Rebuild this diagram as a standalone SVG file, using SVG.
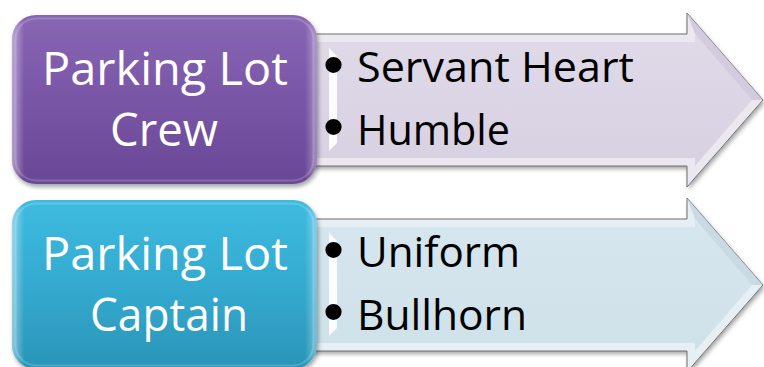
<svg xmlns="http://www.w3.org/2000/svg" width="764" height="367" viewBox="0 0 764 367">
<defs>
<filter id="sh" x="-10%" y="-10%" width="125%" height="130%">
<feDropShadow dx="1.5" dy="3" stdDeviation="2" flood-color="#000" flood-opacity="0.35"/>
</filter>
<linearGradient id="gP" x1="0" y1="0" x2="0" y2="1">
<stop offset="0" stop-color="#8767b4"/>
<stop offset="0.5" stop-color="#7955a6"/>
<stop offset="1" stop-color="#6a4896"/>
</linearGradient>
<linearGradient id="gB" x1="0" y1="0" x2="0" y2="1">
<stop offset="0" stop-color="#3ebbe0"/>
<stop offset="0.5" stop-color="#34aad0"/>
<stop offset="1" stop-color="#2a95b8"/>
</linearGradient>
<linearGradient id="gEdge" x1="0" y1="0" x2="1" y2="0">
<stop offset="0" stop-color="#fff" stop-opacity="0.45"/>
<stop offset="0.04" stop-color="#fff" stop-opacity="0"/>
<stop offset="0.96" stop-color="#fff" stop-opacity="0"/>
<stop offset="1" stop-color="#fff" stop-opacity="0.35"/>
</linearGradient>
<linearGradient id="aP" x1="0" y1="0" x2="0" y2="1">
<stop offset="0" stop-color="#dfd9e8"/>
<stop offset="1" stop-color="#d8d1e2"/>
</linearGradient>
<linearGradient id="aB" x1="0" y1="0" x2="0" y2="1">
<stop offset="0" stop-color="#d6e6ee"/>
<stop offset="1" stop-color="#cfe1e9"/>
</linearGradient>
<polygon id="arrowOuter" points="304,34 687,34 687,13 763,100 687,187 687,166 304,166"/>
<polygon id="arrowInner" points="313,42 695,42 695,34 752,100 695,166 695,158 313,158"/>
<polygon id="leftBevel" points="329,48 337,56 337,143 329,151"/>
</defs>
<style>
.title{font-family:"Open Sans","Liberation Sans",sans-serif;font-size:45px;fill:#fff;text-anchor:middle}
.item{font-family:"Open Sans","Liberation Sans",sans-serif;font-size:42px;fill:#000}
.bul{font-family:"Liberation Sans",sans-serif;font-size:60px;fill:#000}
.edge{fill:none;stroke:#6e6e6e;stroke-width:1}
</style>
<rect width="764" height="367" fill="#fff"/>

<g id="crew-arrow">
<use href="#arrowOuter" fill="#ece8f1" filter="url(#sh)"/>
<use href="#arrowOuter" class="edge"/>
<use href="#arrowInner" fill="url(#aP)"/>
<polygon points="695,34 752,100 763,100 687,13" fill="#c9c1d6" opacity="0.7"/>
<use href="#leftBevel" fill="#fff" opacity="0.9"/>
<text class="bul" x="323" y="85">•</text>
<text class="item" x="357" y="82" textLength="277" lengthAdjust="spacingAndGlyphs">Servant Heart</text>
<text class="bul" x="323" y="147">•</text>
<text class="item" x="357" y="145" textLength="153" lengthAdjust="spacingAndGlyphs">Humble</text>
</g>

<g id="crew">
<rect x="12" y="15" width="305" height="169" rx="24" fill="url(#gP)" filter="url(#sh)"/>
<rect x="12" y="15" width="305" height="169" rx="24" fill="url(#gEdge)"/>
<rect x="15.5" y="18.5" width="298" height="162" rx="21" fill="none" stroke="#fff" stroke-opacity="0.18" stroke-width="2"/>
<text class="title" x="165" y="85" textLength="246" lengthAdjust="spacingAndGlyphs">Parking Lot</text>
<text class="title" x="164" y="146" textLength="108" lengthAdjust="spacingAndGlyphs">Crew</text>
</g>

<g id="captain-arrow" transform="translate(0,185)">
<use href="#arrowOuter" fill="#e6f0f4" filter="url(#sh)"/>
<use href="#arrowOuter" class="edge"/>
<use href="#arrowInner" fill="url(#aB)"/>
<polygon points="695,34 752,100 763,100 687,13" fill="#bcd0da" opacity="0.7"/>
<use href="#leftBevel" fill="#fff" opacity="0.9"/>
<text class="bul" x="323" y="85">•</text>
<text class="item" x="357" y="82" textLength="163" lengthAdjust="spacingAndGlyphs">Uniform</text>
<text class="bul" x="323" y="147">•</text>
<text class="item" x="357" y="145" textLength="170" lengthAdjust="spacingAndGlyphs">Bullhorn</text>
</g>

<g id="captain" transform="translate(0,185)">
<rect x="12" y="15" width="305" height="169" rx="24" fill="url(#gB)" filter="url(#sh)"/>
<rect x="12" y="15" width="305" height="169" rx="24" fill="url(#gEdge)"/>
<rect x="15.5" y="18.5" width="298" height="162" rx="21" fill="none" stroke="#fff" stroke-opacity="0.18" stroke-width="2"/>
<text class="title" x="165" y="85" textLength="246" lengthAdjust="spacingAndGlyphs">Parking Lot</text>
<text class="title" x="169" y="146" textLength="158" lengthAdjust="spacingAndGlyphs">Captain</text>
</g>
</svg>
